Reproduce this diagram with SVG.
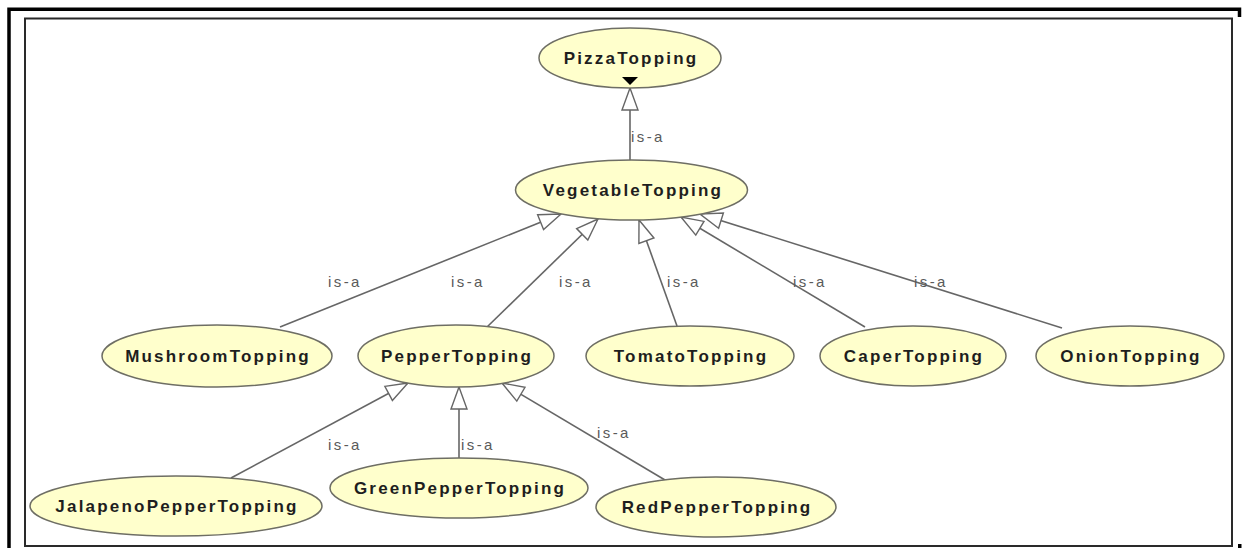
<svg xmlns="http://www.w3.org/2000/svg" width="1245" height="548" viewBox="0 0 1245 548">
  <style>
    .node ellipse { fill: #ffffcc; stroke: #6e6e64; stroke-width: 1.5; }
    .node text { font-family: "Liberation Sans", Arial, sans-serif; font-weight: bold; font-size: 17px; letter-spacing: 2.2px; fill: #1e1e1e; text-anchor: middle; }
    .edge { stroke: #666; stroke-width: 1.6; fill: none; marker-end: url(#isa); }
    .lbl { font-family: "Liberation Sans", Arial, sans-serif; font-size: 15px; letter-spacing: 2.4px; fill: #5a5a5a; }
  </style>
  <defs>
    <marker id="isa" markerUnits="userSpaceOnUse" markerWidth="26" markerHeight="20" viewBox="-1 -10 25 20" refX="22" refY="0" orient="auto">
      <path d="M0,-8 L22,0 L0,8 Z" fill="#fff" stroke="#666" stroke-width="1.4" stroke-linejoin="miter"/>
    </marker>
  </defs>

  <rect x="0" y="0" width="1245" height="548" fill="#fff"/>

  <!-- window frame -->
  <g id="frame">
    <polyline points="9,548 9,9.2 1239.5,9.2 1239.5,17" fill="none" stroke="#000" stroke-width="3.5"/>
    <rect x="1238" y="544" width="3.5" height="4" fill="#000"/>
    <rect x="25" y="18.5" width="1207" height="527.5" fill="none" stroke="#2a2a2a" stroke-width="2"/>
  </g>

  <!-- subclass connectors -->
  <g id="connectors">
    <line class="edge" x1="630" y1="160" x2="630" y2="88"/>
    <line class="edge" x1="280" y1="327" x2="561" y2="214"/>
    <line class="edge" x1="487" y1="327" x2="598" y2="219"/>
    <line class="edge" x1="677" y1="326" x2="639" y2="220"/>
    <line class="edge" x1="865" y1="327" x2="681" y2="217"/>
    <line class="edge" x1="1062" y1="328" x2="700" y2="214"/>
    <line class="edge" x1="231" y1="478" x2="408" y2="383"/>
    <line class="edge" x1="459" y1="458" x2="459" y2="387"/>
    <line class="edge" x1="665" y1="480" x2="502" y2="383"/>
    <g id="labels">
      <text class="lbl" x="631" y="142">is-a</text>
      <text class="lbl" x="328" y="287">is-a</text>
      <text class="lbl" x="451" y="287">is-a</text>
      <text class="lbl" x="559" y="287">is-a</text>
      <text class="lbl" x="667" y="287">is-a</text>
      <text class="lbl" x="793" y="287">is-a</text>
      <text class="lbl" x="914" y="287">is-a</text>
      <text class="lbl" x="328" y="450">is-a</text>
      <text class="lbl" x="461" y="450">is-a</text>
      <text class="lbl" x="597" y="438">is-a</text>
    </g>
  </g>

  <g id="PizzaTopping" class="node">
    <ellipse cx="630" cy="58" rx="91" ry="30"/>
    <text x="631" y="64">PizzaTopping</text>
    <path d="M622,77 L638,77 L630,85 Z" fill="#000"/>
  </g>
  <g id="VegetableTopping" class="node">
    <ellipse cx="631.5" cy="190" rx="116" ry="30"/>
    <text x="633" y="196">VegetableTopping</text>
  </g>
  <g id="MushroomTopping" class="node">
    <ellipse cx="217" cy="356" rx="115" ry="31"/>
    <text x="218" y="362">MushroomTopping</text>
  </g>
  <g id="PepperTopping" class="node">
    <ellipse cx="456" cy="356" rx="98" ry="31"/>
    <text x="457" y="362">PepperTopping</text>
  </g>
  <g id="TomatoTopping" class="node">
    <ellipse cx="690" cy="356" rx="104" ry="30"/>
    <text x="691" y="362">TomatoTopping</text>
  </g>
  <g id="CaperTopping" class="node">
    <ellipse cx="913" cy="356" rx="93" ry="30"/>
    <text x="914" y="362">CaperTopping</text>
  </g>
  <g id="OnionTopping" class="node">
    <ellipse cx="1130" cy="356" rx="94" ry="30"/>
    <text x="1131" y="362">OnionTopping</text>
  </g>
  <g id="JalapenoPepperTopping" class="node">
    <ellipse cx="176" cy="506" rx="146" ry="30"/>
    <text x="177" y="512">JalapenoPepperTopping</text>
  </g>
  <g id="GreenPepperTopping" class="node">
    <ellipse cx="459" cy="488" rx="129" ry="30"/>
    <text x="460" y="494">GreenPepperTopping</text>
  </g>
  <g id="RedPepperTopping" class="node">
    <ellipse cx="716" cy="507" rx="120" ry="30"/>
    <text x="717" y="513">RedPepperTopping</text>
  </g>
</svg>
